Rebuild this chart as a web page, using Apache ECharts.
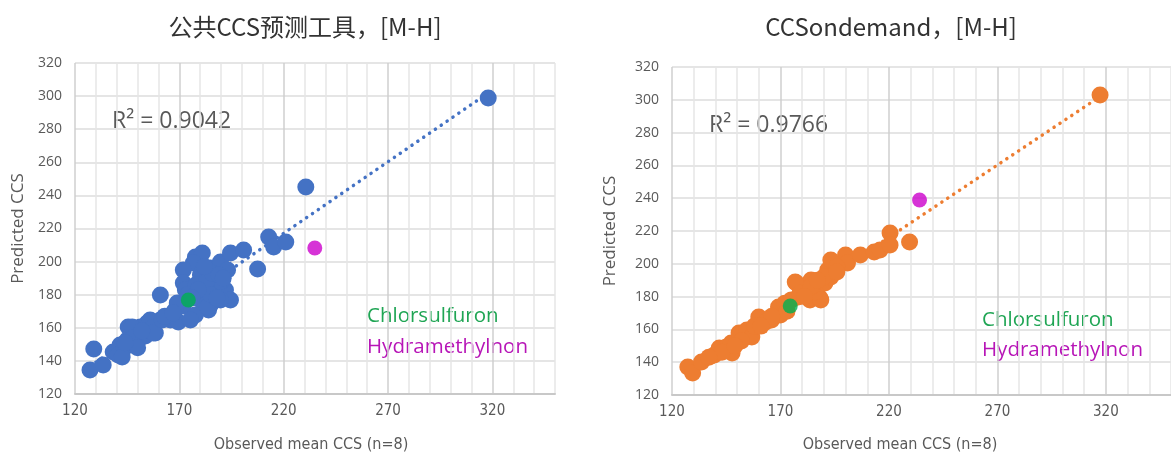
<!DOCTYPE html>
<html>
<head>
<meta charset="utf-8">
<script src="https://cdn.jsdelivr.net/npm/echarts@6/dist/echarts.min.js"></script>
<style>
  html, body { margin: 0; padding: 0; background: #fff; }
  #chart { width: 1171px; height: 455px; }
</style>
</head>
<body>
<div id="chart"></div>
<script>
// left panel: public CCS prediction tool
const leftObs = [127.2, 133.5, 129, 138.3, 141.6, 145, 147.9, 151.3, 154.6, 145.5, 149.8, 153.7, 158.5, 160.9, 156,
  140.7, 143.6, 157, 165.7, 169.5, 168, 171.9, 169, 160.9, 177.7, 181, 176.7, 171.9, 171.9, 172.9, 180.1, 184.9,
  189.7, 193.1, 182.5, 187.3, 192.1, 194.5, 184.9, 180.1, 184, 177.7, 175.3, 194.5, 200.8, 207.5, 212.8, 215.2,
  221, 230.6, 318, 142.6, 147.4, 157.5, 189.7, 183.5, 186, 190, 178, 174, 165, 161.8,
  148, 152, 150, 144, 163, 167, 183, 186, 189, 191, 185, 179, 176, 182, 188];
const leftPred = [134.5, 137.5, 147.2, 145.4, 149.6, 152.6, 156.9, 160.5, 162.9, 160.5, 150.8, 155, 156.9, 164.7, 164.7,
  143.6, 147.8, 159.9, 164.7, 163.5, 170.8, 173.2, 175, 179.8, 202.8, 205.2, 199.2, 194.9, 187, 182.8, 191.9, 196.1,
  199.8, 194.9, 182.8, 185.9, 182.8, 176.8, 173.8, 176.8, 170.8, 167.7, 164.7, 205.2, 207, 195.5, 214.9, 208.8,
  211.8, 245.1, 298.9, 142.4, 160.5, 156.9, 176.8, 172.6, 190, 188, 186, 180, 167, 164.7,
  154, 158, 148, 151, 167, 169, 188, 193, 192, 190, 180, 183, 178, 197, 178];

// right panel: CCSondemand
const rightObs = [127.3, 129.5, 133.6, 139.5, 141.8, 145, 147.7, 147.3, 150.9, 154.5, 156.8, 160, 163.2, 165.9, 170,
  169.1, 177.3, 178.2, 180.5, 184.1, 183.6, 188.2, 187.3, 190.5, 191.8, 194.1, 193.2, 200, 200.9, 206.8, 213.2,
  215.9, 220.5, 220.5, 229.5, 317.3, 176.8, 188.6, 193.2, 143, 137, 152, 158, 172, 175, 182, 186, 196, 173, 166, 185,
  149, 161, 179, 184, 190, 196, 181, 187];
const rightPred = [137.1, 133.4, 140.1, 144.4, 148.7, 149.3, 145.6, 151.7, 157.8, 159.6, 155.4, 167.6, 164.5, 165.7, 168.8,
  173.7, 188.3, 179.8, 184, 190.1, 177.9, 179.1, 185.9, 188.3, 196.2, 199.3, 191.9, 205.4, 200.5, 205.4, 207.2,
  208.4, 218.8, 211.5, 213.3, 302.9, 188.9, 177.9, 202.3, 146, 143, 153, 162, 176, 178, 182, 183, 198, 171, 168, 187,
  150, 162, 182, 186, 192, 195, 180, 190];

// highlighted compounds [observed, predicted]
const chlorsulfuron = { left: [174.3, 176.8], right: [174.5, 174.3] };
const hydramethylnon = { left: [234.9, 208.2], right: [234.1, 238.9] };

const titles = ['公共CCS预测工具，[M-H]', 'CCSondemand，[M-H]'];
const r2Labels = ['R² = 0.9042', 'R² = 0.9766'];
const xTicks = [120, 170, 220, 270, 320];

const BLUE = '#4472C4';
const ORANGE = '#ED7D31';
const GREEN = '#00B050';
const MAGENTA = '#CC00CC';
const TEXT = '#595959';
const LABEL_FONT = "'Liberation Sans Narrow', 'DejaVu Sans Condensed', 'Open Sans', sans-serif";
const BODY_FONT = "'Open Sans', 'Noto Sans', sans-serif";

function pairs(xs, ys) {
  return xs.map((x, i) => [x, ys[i]]);
}

// least-squares trendline across the observed range
function trend(xs, ys) {
  const n = xs.length;
  const mx = xs.reduce((a, b) => a + b, 0) / n;
  const my = ys.reduce((a, b) => a + b, 0) / n;
  let sxy = 0, sxx = 0;
  xs.forEach((x, i) => { sxy += (x - mx) * (ys[i] - my); sxx += (x - mx) * (x - mx); });
  const slope = sxy / sxx;
  const icpt = my - slope * mx;
  const lo = Math.min(...xs), hi = Math.max(...xs);
  return [[lo, icpt + slope * lo], [hi, icpt + slope * hi]];
}

const minorColors = ['#cfcfcf', '#e6e6e6', '#e6e6e6', '#e6e6e6', '#e6e6e6'];

function xAxis(gridIndex) {
  return {
    type: 'value', gridIndex, min: 120, max: 350, interval: 10,
    axisLine: { show: true, lineStyle: { color: '#c8c8c8', width: 2 } },
    axisTick: { show: false },
    splitLine: { show: true, lineStyle: { color: minorColors, width: 1.5 } },
    axisLabel: {
      color: TEXT, fontSize: 15, fontFamily: LABEL_FONT, margin: 10, showMaxLabel: false,
      formatter: (v) => (xTicks.includes(v) ? String(v) : ''),
    },
  };
}

function yAxis(gridIndex, gap) {
  return {
    type: 'value', gridIndex, min: 120, max: 320, interval: 20,
    name: 'Predicted CCS', nameLocation: 'middle', nameGap: gap,
    nameTextStyle: { color: TEXT, fontSize: 17, fontFamily: BODY_FONT },
    axisLine: { show: false }, axisTick: { show: false },
    splitLine: { show: true, lineStyle: { color: '#dcdcdc', width: 1.5 } },
    axisLabel: { color: TEXT, fontSize: 14, fontFamily: BODY_FONT, margin: 13 },
  };
}

function panelSeries(idx, xs, ys, color) {
  const key = idx === 0 ? 'left' : 'right';
  return [
    {
      type: 'line', xAxisIndex: idx, yAxisIndex: idx, data: trend(xs, ys), showSymbol: false, z: 2,
      lineStyle: { color, width: 3.5, type: [0.1, 7], cap: 'round' },
    },
    { type: 'scatter', xAxisIndex: idx, yAxisIndex: idx, data: pairs(xs, ys), symbolSize: 17, itemStyle: { color, opacity: 1 }, z: 3 },
    { type: 'scatter', xAxisIndex: idx, yAxisIndex: idx, data: [chlorsulfuron[key]], symbolSize: 15, itemStyle: { color: GREEN }, z: 4 },
    { type: 'scatter', xAxisIndex: idx, yAxisIndex: idx, data: [hydramethylnon[key]], symbolSize: 15, itemStyle: { color: MAGENTA }, z: 4 },
  ];
}

function text(x, y, str, size, color, align, font) {
  return {
    type: 'text', x, y,
    style: { text: str, fontSize: size, fill: color, fontFamily: font || BODY_FONT, align: align || 'left', verticalAlign: 'middle' },
  };
}

const chart = echarts.init(document.getElementById('chart'), null, { renderer: 'canvas' });
chart.setOption({
  animation: false,
  grid: [
    { left: 75, top: 63, width: 480, height: 331 },
    { left: 672, top: 67, width: 506, height: 328 },
  ],
  xAxis: [xAxis(0), xAxis(1)],
  yAxis: [yAxis(0, 48), yAxis(1, 53)],
  series: [...panelSeries(0, leftObs, leftPred, BLUE), ...panelSeries(1, rightObs, rightPred, ORANGE)],
  graphic: [
    text(305, 27, titles[0], 24, '#333333', 'center', "'Noto Sans CJK SC', sans-serif"),
    text(891, 27, titles[1], 24, '#333333', 'center', "'Noto Sans CJK SC', sans-serif"),
    text(112, 121, r2Labels[0], 23, TEXT, 'left'),
    text(709, 125, r2Labels[1], 23, TEXT, 'left'),
    text(367, 316, 'Chlorsulfuron', 20.5, '#1FA554', 'left'),
    text(367, 347, 'Hydramethylnon', 20.5, '#B715B7', 'left'),
    text(982, 320, 'Chlorsulfuron', 20.5, '#1FA554', 'left'),
    text(982, 350, 'Hydramethylnon', 20.5, '#B715B7', 'left'),
    text(311, 445, 'Observed mean CCS (n=8)', 16, TEXT, 'center', LABEL_FONT),
    text(900, 445, 'Observed mean CCS (n=8)', 16, TEXT, 'center', LABEL_FONT),
  ],
});
</script>
</body>
</html>
